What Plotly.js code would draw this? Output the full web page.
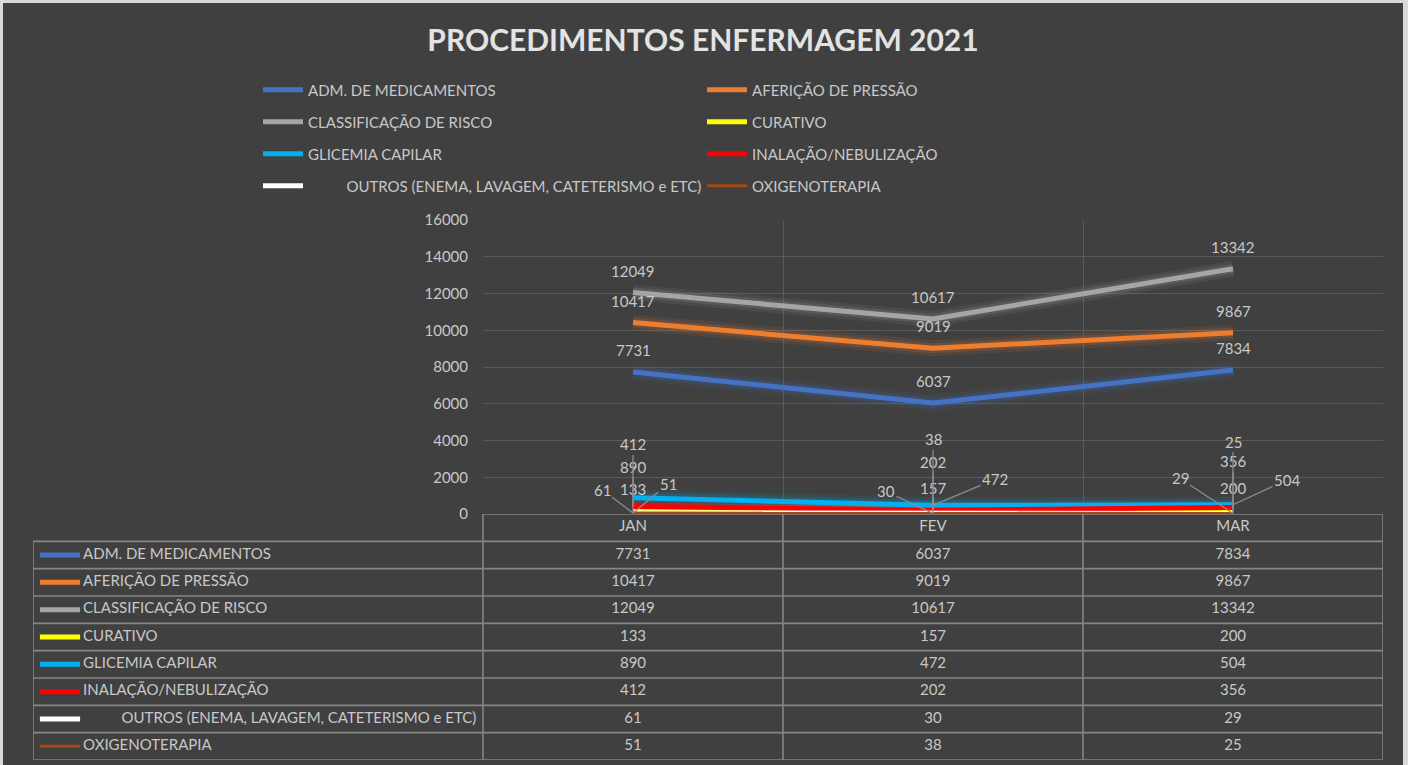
<!DOCTYPE html>
<html>
<head>
<meta charset="utf-8">
<script src="https://cdn.plot.ly/plotly-3.0.1.min.js"></script>
<style>
  html, body { margin: 0; padding: 0; background: #d9d9d9; overflow: hidden; }
  #chart { position: absolute; left: 3px; top: 3px; width: 1400px; height: 762px; }
</style>
</head>
<body>
<div id="chart"></div>
<script>
/* Procedimentos Enfermagem 2021 — line chart + data table */

const MONTHS = ['JAN', 'FEV', 'MAR'];

const ADM_MEDICAMENTOS   = [7731, 6037, 7834];
const AFERICAO_PRESSAO   = [10417, 9019, 9867];
const CLASSIFICACAO      = [12049, 10617, 13342];
const CURATIVO           = [133, 157, 200];
const GLICEMIA           = [890, 472, 504];
const INALACAO           = [412, 202, 356];
const OUTROS             = [61, 30, 29];
const OXIGENOTERAPIA     = [51, 38, 25];

const PAD = '\u00A0'.repeat(10);
const NAMES = [
  'ADM. DE MEDICAMENTOS', 'AFERIÇÃO DE PRESSÃO', 'CLASSIFICAÇÃO DE RISCO', 'CURATIVO',
  'GLICEMIA CAPILAR', 'INALAÇÃO/NEBULIZAÇÃO', PAD + 'OUTROS (ENEMA, LAVAGEM, CATETERISMO e ETC)', 'OXIGENOTERAPIA'
];
const VALUES = [ADM_MEDICAMENTOS, AFERICAO_PRESSAO, CLASSIFICACAO, CURATIVO,
                GLICEMIA, INALACAO, OUTROS, OXIGENOTERAPIA];

// styling
const COLORS = ['#4472C4', '#ED7D31', '#A5A5A5', '#FFFF00', '#00B0F0', '#FF0000', '#FFFFFF', '#A34A12'];
const WIDTHS = [5, 5, 5, 5, 5, 5, 5, 3];
const LEGENDS = ['legend', 'legend', 'legend2', 'legend2', 'legend3', 'legend3', 'legend4', 'legend4'];
const TXT = '#c8c8c8';
const FONT = 'Lato, "Open Sans", sans-serif';

// label placement for the small series: [ax, ay] pixel offsets per month
const LABEL_OFFSETS = {
  3: [[0, -23], [0, -23], [0, -22]],
  4: [[0, -31], [62, -26], [54, -25]],
  5: [[0, -62], [0, -48], [0, -46]],
  6: [[-31, -23], [-47, -22], [-53, -35]],
  7: [[35, -29], [0, -74], [0, -72]]
};

// page pixel -> paper fraction (div is 1400x762 at offset 3,3)
const fx = px => (px - 3) / 1400;
const fy = py => 1 - (py - 3) / 762;

const traces = [];

// glow under each line
VALUES.forEach((vals, i) => {
  [[16, 0.10], [10, 0.16]].forEach(([w, a]) => {
    traces.push({
      x: MONTHS, y: vals, type: 'scatter', mode: 'lines',
      line: { color: COLORS[i], width: w }, opacity: a,
      showlegend: false, hoverinfo: 'skip'
    });
  });
});

// main series
VALUES.forEach((vals, i) => {
  traces.push({
    x: MONTHS, y: vals, name: NAMES[i], type: 'scatter', mode: 'lines',
    line: { color: COLORS[i], width: WIDTHS[i] },
    legend: LEGENDS[i]
  });
});

// ── data table (x2/y2) ───────────────────────────────
const nRows = NAMES.length;
const gx = [], gy = [];
// horizontal rules
gx.push(0, 3, null); gy.push(-1.5, -1.5, null);
for (let r = -0.5; r <= nRows - 0.5; r += 1) { gx.push(-1.5, 3, null); gy.push(r, r, null); }
// vertical rules
gx.push(-1.5, -1.5, null); gy.push(-0.5, nRows - 0.5, null);
for (let c = 0; c <= MONTHS.length; c++) { gx.push(c, c, null); gy.push(-1.5, nRows - 0.5, null); }
traces.push({
  x: gx, y: gy, xaxis: 'x2', yaxis: 'y2', type: 'scatter', mode: 'lines',
  line: { color: '#858585', width: 1.6 }, showlegend: false, hoverinfo: 'skip'
});

// header + cells
const cx = [], cy = [], ct = [];
MONTHS.forEach((m, c) => { cx.push(c + 0.5); cy.push(-1); ct.push(m); });
VALUES.forEach((vals, r) => vals.forEach((v, c) => { cx.push(c + 0.5); cy.push(r); ct.push(String(v)); }));
traces.push({
  x: cx, y: cy, text: ct, xaxis: 'x2', yaxis: 'y2', type: 'scatter', mode: 'text',
  textfont: { family: FONT, size: 15, color: TXT }, showlegend: false, hoverinfo: 'skip'
});

// row keys + labels
VALUES.forEach((vals, r) => {
  traces.push({
    x: [-1.477, -1.343], y: [r, r], xaxis: 'x2', yaxis: 'y2', type: 'scatter', mode: 'lines',
    line: { color: COLORS[r], width: WIDTHS[r] }, showlegend: false, hoverinfo: 'skip'
  });
});
traces.push({
  x: NAMES.map(() => -1.333), y: NAMES.map((n, r) => r), text: NAMES,
  xaxis: 'x2', yaxis: 'y2', type: 'scatter', mode: 'text', textposition: 'middle right',
  textfont: { family: FONT, size: 15, color: TXT }, showlegend: false, hoverinfo: 'skip'
});

// ── data labels ─────────────────────────────────────
const annotations = [];
VALUES.forEach((vals, i) => {
  vals.forEach((v, k) => {
    const base = { x: MONTHS[k], y: v, xref: 'x', yref: 'y', text: String(v),
                   font: { family: FONT, size: 15, color: TXT } };
    if (LABEL_OFFSETS[i]) {
      const [ax, ay] = LABEL_OFFSETS[i][k];
      annotations.push({ ...base, showarrow: true, arrowhead: 0, arrowwidth: 1.3,
                         arrowcolor: '#8c8c8c', ax, ay, standoff: 0 });
    } else {
      annotations.push({ ...base, showarrow: false, yshift: 22 });
    }
  });
});

const legendBase = {
  orientation: 'h', x: fx(258), xanchor: 'left', yanchor: 'middle',
  bgcolor: 'rgba(0,0,0,0)', font: { family: FONT, size: 15, color: TXT },
  entrywidth: 389, entrywidthmode: 'pixels', itemwidth: 40
};

const layout = {
  width: 1400, height: 762,
  paper_bgcolor: '#404040', plot_bgcolor: '#404040',
  margin: { l: 0, r: 0, t: 0, b: 0 },
  font: { family: FONT, color: TXT },
  title: {
    text: '<b>PROCEDIMENTOS ENFERMAGEM 2021</b>',
    x: 0.5, xanchor: 'center', y: fy(40), yanchor: 'middle',
    font: { family: FONT, size: 30, color: '#e3e3e3' }
  },
  xaxis: {
    type: 'category', domain: [fx(483), fx(1383)], range: [-0.5, 2.5],
    tickson: 'boundaries', showgrid: true, gridcolor: '#595959', gridwidth: 1,
    showticklabels: false, ticks: '', zeroline: false, showline: false, fixedrange: true
  },
  yaxis: {
    domain: [fy(514), fy(220)], range: [0, 16000], dtick: 2000, tickformat: 'd',
    gridcolor: '#595959', gridwidth: 1, zeroline: false, showline: false, ticks: '',
    ticklabelstandoff: 14, tickfont: { family: FONT, size: 15, color: TXT }, fixedrange: true
  },
  xaxis2: { domain: [fx(33), fx(1383)], range: [-1.5, 3], anchor: 'y2', visible: false, fixedrange: true },
  yaxis2: { domain: [fy(760), fy(514)], range: [nRows - 0.5, -1.5], anchor: 'x2', visible: false, fixedrange: true },
  legend:  { ...legendBase, y: fy(90) },
  legend2: { ...legendBase, y: fy(122) },
  legend3: { ...legendBase, y: fy(154) },
  legend4: { ...legendBase, y: fy(186) },
  annotations,
  showlegend: true
};

Plotly.newPlot('chart', traces, layout, { displayModeBar: false, staticPlot: true });
</script>
</body>
</html>
